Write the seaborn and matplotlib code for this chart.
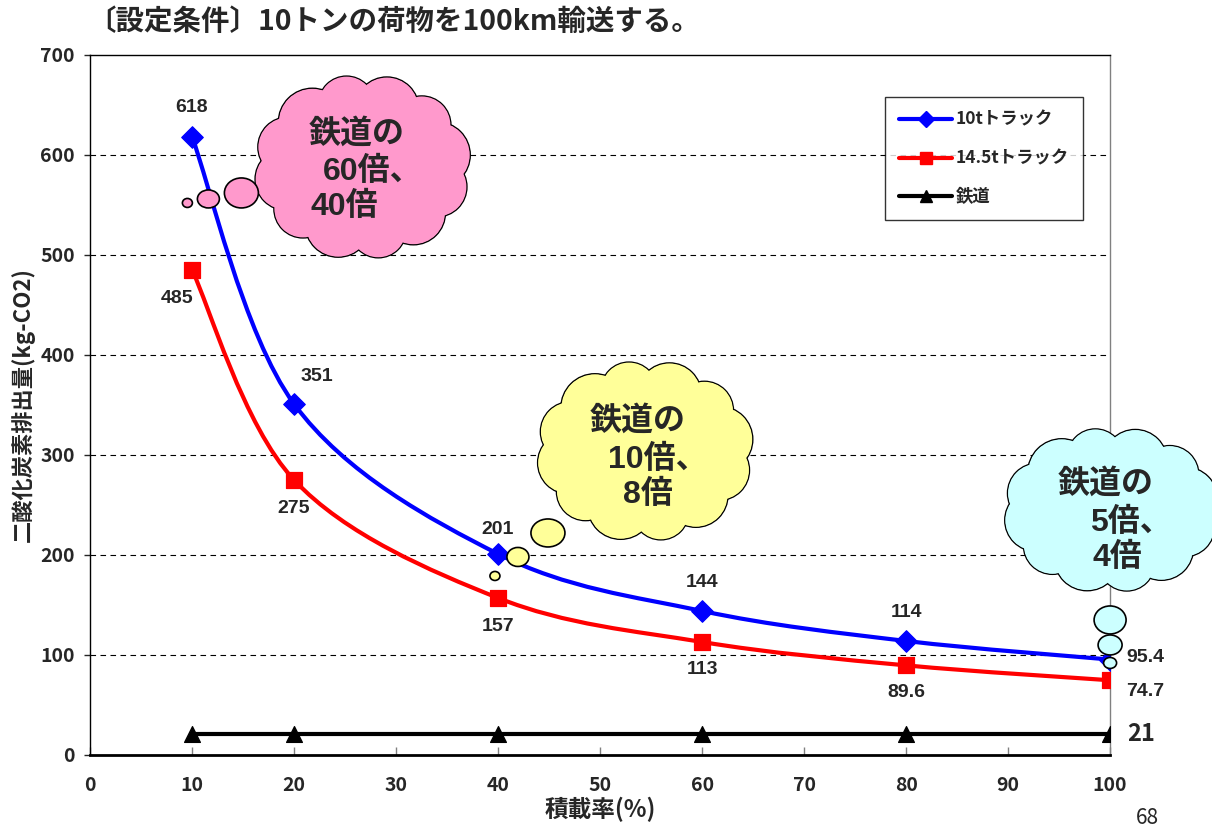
import numpy as np
import pandas as pd
import seaborn as sns
import matplotlib.pyplot as plt
from matplotlib.path import Path
from matplotlib.patches import PathPatch, Ellipse
from matplotlib.lines import Line2D

# data
load_rate = [10, 20, 40, 60, 80, 100]
truck_10t = [618, 351, 201, 144, 114, 95.4]
truck_145t = [485, 275, 157, 113, 89.6, 74.7]
rail = [21, 21, 21, 21, 21, 21]
labels_10t = ['618', '351', '201', '144', '114', '95.4']
labels_145t = ['485', '275', '157', '113', '89.6', '74.7']
series_names = ['10tトラック', '14.5tトラック', '鉄道']

sns.set_style("white")
plt.rcParams['font.family'] = ['Noto Sans CJK JP', 'DejaVu Sans']
NARROW = ['Liberation Sans Narrow', 'Noto Sans CJK JP', 'DejaVu Sans']
BOLD = ['Liberation Sans', 'Noto Sans CJK JP', 'DejaVu Sans']

fig = plt.figure(figsize=(12.12, 8.30), dpi=100)
ax = fig.add_axes([0.0743, 0.0904, 0.8416, 0.8434])

XS, YS = 10.2, 1.0  # px per data unit


def smooth_path(xs, ys):
    # excel style smoothed line (catmull-rom as bezier segments)
    p = np.column_stack([xs, ys]).astype(float)
    p[:, 0] *= XS
    n = len(p)
    verts = [p[0]]
    codes = [Path.MOVETO]
    for i in range(n - 1):
        p0 = p[i - 1] if i > 0 else p[i]
        p3 = p[i + 2] if i + 2 < n else p[i + 1]
        c1 = p[i] + (p[i + 1] - p0) / 6
        c2 = p[i + 1] - (p3 - p[i]) / 6
        verts += [c1, c2, p[i + 1]]
        codes += [Path.CURVE4] * 3
    v = np.array(verts)
    v[:, 0] /= XS
    return Path(v, codes)


for ys, col in [(truck_10t, '#0000FF'), (truck_145t, '#FF0000')]:
    ax.add_patch(PathPatch(smooth_path(load_rate, ys), fill=False,
                           edgecolor=col, lw=3, zorder=3))

df_rail = pd.DataFrame({'x': load_rate, 'y': rail})
sns.lineplot(data=df_rail, x='x', y='y', color='black', lw=3, ax=ax, zorder=3)

sns.scatterplot(x=load_rate, y=truck_10t, marker='D', s=120, color='#0000FF',
                edgecolor='#0000FF', ax=ax, zorder=4)
sns.scatterplot(x=load_rate, y=truck_145t, marker='s', s=120, color='#FF0000',
                edgecolor='#FF0000', ax=ax, zorder=4)
sns.scatterplot(x=load_rate, y=rail, marker='^', s=130, color='black',
                edgecolor='black', ax=ax, zorder=4)

ax.set_xlim(0, 100)
ax.set_ylim(0, 700)
ax.set_xticks(range(0, 101, 10))
ax.set_yticks(range(0, 701, 100))
for y in range(100, 700, 100):
    ax.axhline(y, color='black', lw=0.8, ls=(0, (5, 4)), zorder=1)

for s in ['left', 'top', 'bottom']:
    ax.spines[s].set_color('black')
ax.spines['left'].set_linewidth(1.0)
ax.spines['top'].set_linewidth(1.0)
ax.spines['bottom'].set_linewidth(2.0)
ax.spines['right'].set_color('#808080')
ax.spines['right'].set_linewidth(1.0)
ax.tick_params(axis='y', direction='out', length=4, width=1, pad=7, left=True)
ax.tick_params(axis='x', direction='in', length=6, width=1, pad=15, color='#808080',
               bottom=True)
for lab in ax.get_xticklabels() + ax.get_yticklabels():
    lab.set_family(NARROW)
    lab.set_fontweight('bold')
    lab.set_fontsize(14)

ax.set_xlabel('積載率(%)', fontsize=17, fontweight='bold')
ax.set_ylabel('二酸化炭素排出量(kg-CO2)', fontsize=16, fontweight='bold')
ax.xaxis.set_label_coords(0.5, -0.06)
ax.yaxis.set_label_coords(-0.054, 0.5)

# data labels
lab_kw = dict(fontsize=14, fontweight='bold', family=BOLD, ha='center', va='center', zorder=6)
off_10t = [(0, 29), (2.2, 27), (0, 24), (0, 28), (0, 28), (1.6, 2)]
off_145t = [(-1.5, -29), (0, -29), (0, -29), (0, -28), (0, -27), (1.6, -11)]
for x, y, t, (dx, dy) in zip(load_rate, truck_10t, labels_10t, off_10t):
    kw = dict(lab_kw)
    if x == 100:
        kw['ha'] = 'left'
    ax.text(x + dx, y + dy, t, **kw)
for x, y, t, (dx, dy) in zip(load_rate, truck_145t, labels_145t, off_145t):
    kw = dict(lab_kw)
    if x == 100:
        kw['ha'] = 'left'
    ax.text(x + dx, y + dy, t, **kw)
ax.text(101.7, rail[-1], '21', fontsize=17, fontweight='bold', family=NARROW,
        ha='left', va='center', clip_on=False)


def cloud(cx, cy, a, b, color, lines, bubbles):
    # cx, cy in data, a, b, offsets and bubbles in px
    n = 12
    ang = np.linspace(0, 2 * np.pi, n, endpoint=False) + 0.2
    rad = [33, 29, 32, 28, 34, 30, 31, 29, 33, 28, 32, 30]
    shapes = []
    for t, r in zip(ang, rad):
        ex = cx + (a - r * 0.75) * np.cos(t) / XS
        ey = cy + (b - r * 0.75) * np.sin(t)
        shapes.append((ex, ey, 2 * r / XS, 2 * r))
    shapes.append((cx, cy, 2 * (a - 20) / XS, 2 * (b - 20)))
    for ex, ey, w, h in shapes:
        ax.add_patch(Ellipse((ex, ey), w, h, facecolor=color, edgecolor='black',
                             lw=1.2, zorder=7, clip_on=False))
    for ex, ey, w, h in shapes:
        ax.add_patch(Ellipse((ex, ey), w * 0.985, h * 0.985, facecolor=color,
                             edgecolor='none', zorder=8, clip_on=False))
    for bx, by, bw, bh in bubbles:
        ax.add_patch(Ellipse((cx + bx / XS, cy + by), bw / XS, bh, facecolor=color,
                             edgecolor='black', lw=1.2, zorder=8, clip_on=False))
    for txt, tx, ty in lines:
        ax.text(cx + tx / XS, cy + ty, txt, fontsize=23, fontweight='bold', ha='left',
                va='center', zorder=9, family=BOLD, clip_on=False)


cloud(26.7, 588, 101, 85, '#FF99CC',
      [('鉄道の', -54, 33), ('60倍、', -40, -5), ('40倍', -52, -40)],
      [(-175, -36, 10, 9), (-154, -32, 22, 18), (-121, -26, 34, 30)])
cloud(54.4, 304, 101, 83, '#FFFF99',
      [('鉄道の', -55, 30), ('10倍、', -37, -9), ('8倍', -22, -44)],
      [(-150, -125, 10, 9), (-127, -106, 22, 19), (-97, -82, 34, 28)])
cloud(100.1, 245, 100, 75, '#CCFFFF',
      [('鉄道の', -53, 26), ('5倍、', -21, -13), ('4倍', -19, -48)],
      [(-1, -110, 32, 28), (-1, -135, 24, 20), (-1, -153, 13, 11)])

handles = [
    Line2D([], [], color='#0000FF', lw=3, marker='D', markersize=8),
    Line2D([], [], color='#FF0000', lw=3, marker='s', markersize=9),
    Line2D([], [], color='black', lw=3, marker='^', markersize=9),
]
leg = ax.legend(handles, series_names, loc='upper right', bbox_to_anchor=(0.9735, 0.94),
                borderaxespad=0, frameon=True, fancybox=False, edgecolor='black',
                handlelength=3.1, labelspacing=1.2, borderpad=0.8, handletextpad=0.2,
                prop={'size': 12.5, 'weight': 'bold'})
leg.get_frame().set_linewidth(1.0)
leg.set_zorder(10)

fig.text(0.072, 0.974, '〔設定条件〕10トンの荷物を100km輸送する。', fontsize=20.5,
         fontweight='bold', ha='left', va='center')
fig.text(0.947, 0.014, '68', fontsize=15, ha='center', va='center', family=NARROW)

fig.savefig('out.png', dpi=100)
